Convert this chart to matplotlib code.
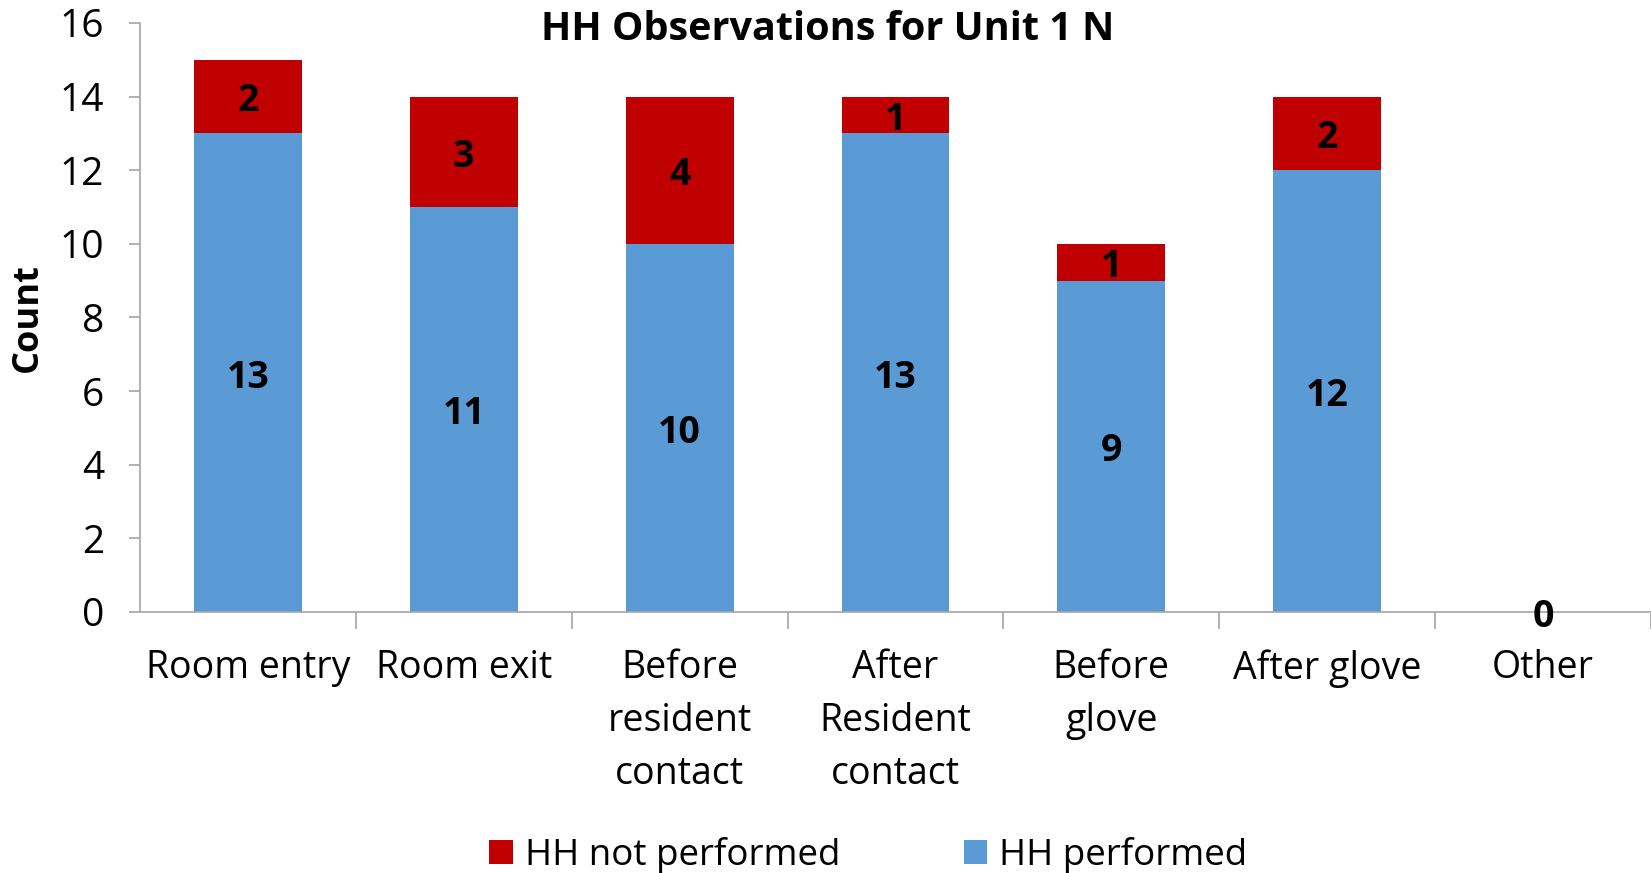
import matplotlib
matplotlib.use("Agg")
import matplotlib.pyplot as plt
import numpy as np
from matplotlib.patches import Patch

plt.rcParams['font.family'] = ['Open Sans', 'DejaVu Sans']

categories = ["Room entry", "Room exit", "Before\nresident\ncontact", "After\nResident\ncontact",
              "Before\nglove", "After glove", "Other"]
performed = [13, 11, 10, 13, 9, 12, 0]
not_performed = [2, 3, 4, 1, 1, 2, 0]

blue = "#5B9BD5"
red = "#C00000"
grey = "#A6A6A6"

fig = plt.figure(figsize=(16.51, 8.73), dpi=100)
ax = fig.add_axes([0.0848, 0.299, 0.9152, 0.6747])

x = np.arange(len(categories))
ax.bar(x, performed, width=0.5, color=blue, zorder=2)
ax.bar(x, not_performed, width=0.5, bottom=performed, color=red, zorder=2)

def label(xv, yv, s):
    ax.annotate(s, (xv, yv), xytext=(0, -3.5), textcoords='offset points',
                ha='center', va='center', fontsize=27, fontweight='bold', zorder=3)

for i in range(len(categories)):
    p, n = performed[i], not_performed[i]
    if p > 0:
        label(x[i], p / 2, str(p))
    if n > 0:
        label(x[i], p + n / 2, str(n))
    if p == 0 and n == 0:
        label(x[i], 0, "0")

ax.set_xlim(-0.5, len(categories) - 0.5)
ax.set_ylim(0, 16)
ax.set_yticks(np.arange(0, 17, 2))
ax.tick_params(axis='y', labelsize=28, length=8, width=1.2, color=grey, pad=18)
ax.set_xticks(x)
ax.set_xticklabels(categories, fontsize=27, linespacing=1.51)
ax.set_xticks(np.arange(0.5, len(categories), 1), minor=True)
ax.tick_params(axis='x', which='major', length=0, pad=27)
ax.tick_params(axis='x', which='minor', length=12, width=1.2, color=grey)

for s in ['top', 'right']:
    ax.spines[s].set_visible(False)
for s in ['left', 'bottom']:
    ax.spines[s].set_color(grey)
    ax.spines[s].set_linewidth(1.2)

ax.set_ylabel("Count", fontsize=26, fontweight='bold')
ax.yaxis.set_label_coords(-0.062, 0.5)

fig.text(0.5015, 0.966, "HH Observations for Unit 1 N", ha='center', va='center',
         fontsize=28.5, fontweight='bold')

handles = [Patch(facecolor=red, label="HH not performed"),
           Patch(facecolor=blue, label="HH performed")]
fig.legend(handles=handles, loc='center', bbox_to_anchor=(0.526, 0.02), ncol=2,
           frameon=False, fontsize=26.5, handlelength=0.63, handleheight=0.63,
           handletextpad=0.34, columnspacing=3.35, borderpad=0, borderaxespad=0)

fig.savefig("out.png", dpi=100)
